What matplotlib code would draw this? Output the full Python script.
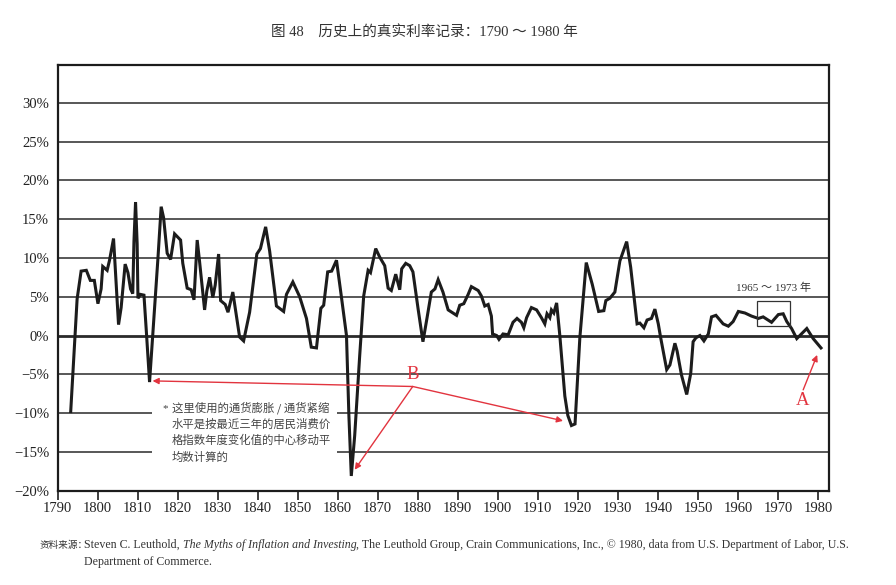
import matplotlib
matplotlib.use("Agg")
import matplotlib.pyplot as plt
from matplotlib.patches import Rectangle

# ---------------- data ----------------
years = [1793.3, 1794.9, 1795.9, 1797.2, 1798.2, 1799.2, 1800.1, 1800.9, 1801.3, 1802.4,
         1803.0, 1804.0, 1805.25, 1805.9, 1806.9, 1807.6, 1808.25, 1808.8, 1809.1, 1809.5,
         1809.9, 1810.1, 1810.7, 1811.6, 1812.2, 1813.0, 1813.8, 1815.1, 1815.9, 1816.5,
         1817.4, 1818.25, 1819.25, 1820.75, 1821.3, 1822.4, 1823.4, 1824.1, 1824.9, 1825.5,
         1826.75, 1827.3, 1828.0, 1828.8, 1829.4, 1830.25, 1830.75, 1831.9, 1832.6, 1833.8,
         1835.5, 1836.5, 1838.0, 1839.8, 1840.7, 1842.0, 1843.0, 1844.7, 1846.5, 1847.2,
         1848.8, 1850.5, 1852.2, 1853.4, 1854.7, 1855.8, 1856.5, 1857.5, 1858.5, 1859.7,
         1860.9, 1862.2, 1862.8, 1863.4, 1864.25, 1865.5, 1866.5, 1867.6, 1868.2, 1869.5,
         1870.5, 1871.75, 1872.6, 1873.4, 1874.5, 1875.5, 1876.0, 1877.0, 1878.0, 1878.8,
         1880.1, 1881.3, 1882.3, 1883.4, 1884.3, 1885.1, 1886.3, 1887.6, 1889.7, 1890.5,
         1891.5, 1892.6, 1893.4, 1895.1, 1895.9, 1896.75, 1897.6, 1898.4, 1898.7, 1899.7,
         1900.3, 1901.3, 1902.6, 1903.8, 1904.8, 1905.9, 1906.5, 1907.2, 1908.4, 1909.7,
         1910.9, 1911.75, 1912.3, 1913.0, 1913.4, 1914.0, 1914.7, 1915.5, 1916.75, 1917.5,
         1918.4, 1919.3, 1920.5, 1922.1, 1923.6, 1925.2, 1926.5, 1927.0, 1928.0, 1929.25,
         1930.5, 1932.2, 1933.2, 1934.8, 1935.5, 1936.5, 1937.3, 1938.4, 1939.25, 1940.1,
         1940.7, 1942.2, 1943.0, 1944.25, 1944.8, 1945.9, 1947.2, 1948.2, 1948.8, 1949.5,
         1950.5, 1951.5, 1952.6, 1953.4, 1954.5, 1956.3, 1957.6, 1958.8, 1960.1, 1961.75,
         1963.4, 1965.1, 1966.3, 1968.4, 1970.1, 1971.3, 1972.2, 1973.4, 1974.7, 1977.2,
         1978.8, 1980.75]
real_rate = [-9.8, 4.7, 8.3, 8.4, 7.1, 7.1, 4.1, 6.0, 8.9, 8.4,
             9.7, 12.5, 1.4, 3.6, 9.2, 8.1, 6.0, 5.4, 12.1, 17.2,
             11.8, 4.8, 5.3, 5.2, 0.5, -6.0, 0.1, 10.0, 16.6, 15.2,
             10.6, 9.8, 13.1, 12.3, 9.3, 6.1, 5.9, 4.6, 12.3, 9.5,
             3.3, 5.7, 7.5, 4.9, 6.5, 10.5, 4.5, 4.0, 3.0, 5.6,
             -0.2, -0.7, 3.0, 10.5, 11.2, 14.0, 10.9, 3.8, 3.1, 5.3,
             6.9, 5.0, 2.2, -1.5, -1.6, 3.5, 3.9, 8.2, 8.3, 9.7,
             5.1, 0.0, -10.3, -18.1, -12.9, -2.6, 5.1, 8.4, 8.1, 11.2,
             10.1, 9.0, 6.1, 5.8, 7.9, 5.9, 8.6, 9.3, 9.0, 8.2,
             3.4, -0.8, 2.2, 5.6, 6.0, 7.2, 5.6, 3.3, 2.6, 3.9,
             4.1, 5.3, 6.3, 5.8, 5.1, 3.8, 4.0, 2.5, 0.2, 0.0,
             -0.5, 0.2, 0.1, 1.7, 2.2, 1.7, 1.0, 2.3, 3.6, 3.3,
             2.3, 1.5, 2.8, 2.3, 3.3, 2.9, 4.2, 0.0, -7.8, -10.3,
             -11.6, -11.4, -0.3, 9.4, 6.6, 3.1, 3.2, 4.5, 4.8, 5.6,
             9.6, 12.1, 8.8, 1.5, 1.6, 1.0, 2.0, 2.2, 3.4, 1.5,
             -0.3, -4.4, -3.8, -1.0, -2.0, -5.1, -7.6, -4.9, -0.8, -0.3,
             0.0, -0.7, 0.2, 2.4, 2.6, 1.5, 1.2, 1.8, 3.1, 2.9,
             2.5, 2.2, 2.4, 1.7, 2.7, 2.8, 1.8, 0.9, -0.4, 0.9,
             -0.4, -1.6]

x_ticks = list(range(1790, 1990, 10))
x_tick_labels = [str(v) for v in x_ticks]
y_ticks = [-20, -15, -10, -5, 0, 5, 10, 15, 20, 25, 30]
y_tick_labels = ["\u221220%", "\u221215%", "\u221210%", "\u22125%", "0%",
                 "5%", "10%", "15%", "20%", "25%", "30%"]

title_text = "图 48\u3000历史上的真实利率记录：1790 ～ 1980 年"
box_label = "1965 ～ 1973 年"
box_years = [1964.7, 1973.0]
box_values = [1.25, 4.45]

label_b = "B"
b_origin = (1878.75, -6.57)
b_targets = [(1813.75, -5.85), (1864.25, -17.3), (1916.3, -11.0)]
label_a = "A"
a_origin = (1976.3, -7.0)
a_target = (1979.8, -2.5)

footnote_lines = ["这里使用的通货膨胀 / 通货紧缩",
                  "水平是按最近三年的居民消费价",
                  "格指数年度变化值的中心移动平",
                  "均数计算的"]
src_prefix = "资料来源："
src_author = "Steven C. Leuthold, "
src_book = "The Myths of Inflation and Investing"
src_rest = (", The Leuthold Group, Crain Communications, Inc., \u00a9 1980, "
            "data from U.S. Department of Labor, U.S.")
src_line2 = "Department of Commerce."

# ---------------- styling ----------------
W, H = 896, 585
SERIF = ["Liberation Serif", "Noto Sans CJK SC", "DejaVu Serif"]
CJK = ["Noto Sans CJK SC", "DejaVu Sans"]
RED = "#e2343f"
INK = "#1c1c1c"
GRID = "#2a2a2a"
SRC_FS = 8.55

def fx(px):
    return px / W

def fy(py):
    return 1 - py / H

fig = plt.figure(figsize=(W / 100, H / 100), dpi=100)
fig.patch.set_facecolor("white")
ax = fig.add_axes([fx(57.5), fy(490.7), fx(829) - fx(57.5), fy(65) - fy(490.7)])
ax.set_xlim(1790, 1982.75)
ax.set_ylim(-20, 34.86)

# gridlines
gap = (1813.6, 1859.8)  # gap left for the footnote text
for v in y_ticks[1:]:
    lw = 2.0 if v == 0 else 1.1
    if v in (-10, -15):
        ax.plot([1790, gap[0]], [v, v], color=GRID, lw=lw, zorder=1, solid_capstyle="butt")
        ax.plot([gap[1], 1982.75], [v, v], color=GRID, lw=lw, zorder=1, solid_capstyle="butt")
    else:
        ax.axhline(v, color=GRID, lw=lw, zorder=1)

# main series
ax.plot(years, real_rate, color=INK, lw=2.2, zorder=3, solid_joinstyle="miter")

# spines and ticks
for s in ax.spines.values():
    s.set_linewidth(1.6)
    s.set_color(INK)
ax.set_xticks(x_ticks)
ax.set_xticklabels(x_tick_labels, family=SERIF, fontsize=10.5, color="#222")
ax.set_yticks(y_ticks)
ax.set_yticklabels(y_tick_labels, family=SERIF, fontsize=10.5, color="#222")
ax.tick_params(axis="x", direction="out", length=6.5, width=1.2, pad=1.5, color=INK)
ax.tick_params(axis="y", length=0, pad=6)

# 1965-1973 box
ax.add_patch(Rectangle((box_years[0], box_values[0]), box_years[1] - box_years[0],
                       box_values[1] - box_values[0], fill=False, ec="#333", lw=0.9, zorder=4))
ax.text((box_years[0] + box_years[1]) / 2, 6.2, box_label, family=SERIF, fontsize=8,
        color="#333", ha="center", va="center")

# red annotations
arrow_kw = dict(arrowstyle="-|>", color=RED, lw=1.0, mutation_scale=9,
                shrinkA=0, shrinkB=0)
for tgt in b_targets:
    ax.annotate("", xy=tgt, xytext=b_origin, arrowprops=arrow_kw, zorder=5)
ax.text(b_origin[0] + 0.1, b_origin[1] + 1.55, label_b, family=SERIF, fontsize=13.5,
        color=RED, ha="center", va="center")
ax.annotate("", xy=a_target, xytext=a_origin, arrowprops=arrow_kw, zorder=5)
ax.text(1976.1, -8.4, label_a, family=SERIF, fontsize=13.5, color=RED,
        ha="center", va="center")

# footnote inside the plot
fig.text(fx(165.5), fy(408.5), "*", family=SERIF, fontsize=8, color="#444",
         ha="center", va="center")
for i, line in enumerate(footnote_lines):
    fig.text(fx(172), fy(407.7 + 16.4 * i), line, family=CJK, fontsize=8.2,
             color="#444", ha="left", va="center")

# title
fig.text(fx(424), fy(31.7), title_text, family=SERIF, fontsize=10.5, color="#333",
         ha="center", va="center")

# source note
t0 = fig.text(fx(40), fy(545), src_prefix, family=CJK, fontsize=6.9, color="#333",
              ha="left", va="center")
t1 = fig.text(fx(84), fy(545), src_author, family="Liberation Serif", fontsize=SRC_FS,
              color="#333", ha="left", va="center")
t2 = ax.annotate(src_book, xy=(1, 0), xycoords=t1, ha="left", va="bottom",
                 family="Liberation Serif", style="italic", fontsize=SRC_FS, color="#333",
                 annotation_clip=False)
t3 = ax.annotate(src_rest, xy=(1, 0), xycoords=t2, ha="left", va="bottom",
                 family="Liberation Serif", fontsize=SRC_FS, color="#333",
                 annotation_clip=False)
fig.text(fx(84), fy(562), src_line2, family="Liberation Serif", fontsize=SRC_FS,
         color="#333", ha="left", va="center")

fig.savefig("out.png", dpi=100, facecolor="white")
